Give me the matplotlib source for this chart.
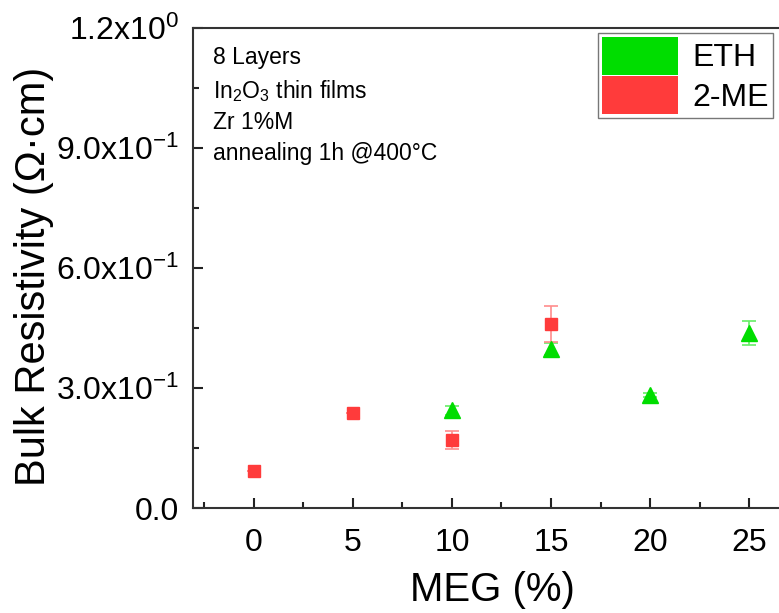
import matplotlib
matplotlib.use("Agg")
import matplotlib.pyplot as plt
from matplotlib.patches import Patch
from matplotlib.ticker import MultipleLocator

plt.rcParams["font.family"] = ["Liberation Sans", "DejaVu Sans"]
plt.rcParams["mathtext.default"] = "regular"

# data
eth_x = [10, 15, 20, 25]
eth_y = [0.245, 0.398, 0.283, 0.437]
eth_err = [0.011, 0.016, 0.006, 0.030]

me_x = [0, 5, 10, 15]
me_y = [0.093, 0.238, 0.170, 0.460]
me_err = [0.0, 0.0, 0.022, 0.045]

yticks = [0.0, 0.3, 0.6, 0.9, 1.2]
ytick_labels = ["0.0", "3.0x10$^{-1}$", "6.0x10$^{-1}$", "9.0x10$^{-1}$", "1.2x10$^{0}$"]
xticks = [0, 5, 10, 15, 20, 25]

green = "#00DD00"
red = "#FF3B3B"

fig = plt.figure(figsize=(7.79, 6.13), dpi=100)
ax = fig.add_axes([0.248, 0.171, 0.752, 0.783])

ax.errorbar(eth_x, eth_y, yerr=eth_err, fmt="^", color=green, ms=11,
            ecolor="#66EE66", elinewidth=1.2, capsize=5, capthick=1.2, zorder=3)
ax.errorbar(me_x, me_y, yerr=me_err, fmt="s", color=red, ms=8.5,
            ecolor="#FF8C8C", elinewidth=1.2, capsize=5, capthick=1.2, zorder=3)

ax.set_xlim(-3.05, 26.5)
ax.set_ylim(0, 1.2)
ax.set_xticks(xticks)
ax.set_yticks(yticks)
ax.set_yticklabels(ytick_labels)
ax.xaxis.set_minor_locator(MultipleLocator(2.5))
ax.yaxis.set_minor_locator(MultipleLocator(0.15))

ax.tick_params(which="both", direction="in", width=1.5, colors="#222222",
               labelsize=23, labelcolor="black")
ax.tick_params(which="major", length=7)
ax.tick_params(which="minor", length=4)
ax.tick_params(axis="y", pad=10)
ax.tick_params(axis="x", pad=14)

for side in ["left", "bottom", "top"]:
    ax.spines[side].set_linewidth(1.5)
    ax.spines[side].set_color("#333333")
ax.spines["right"].set_visible(False)

# axis titles placed in figure pixels to match the reference
fig.text(34 / 779, 1 - 276 / 613, "Bulk Resistivity (Ω·cm)", fontsize=30,
         rotation=90, ha="center", va="center")
fig.text(492 / 779, 1 - 601 / 613, "MEG (%)", fontsize=29,
         ha="center", va="baseline")

ax.text(0.033, 0.962, "8 Layers\nIn$_2$O$_3$ thin films\nZr 1%M\nannealing 1h @400°C",
        transform=ax.transAxes, fontsize=16.5, va="top", ha="left", linespacing=1.42)

handles = [Patch(facecolor=green, edgecolor="none", label="ETH"),
           Patch(facecolor=red, edgecolor="none", label="2-ME")]
leg = ax.legend(handles=handles, loc="upper right", bbox_to_anchor=(0.99, 0.99),
                fontsize=23, frameon=True, fancybox=False, edgecolor="#555555",
                handlelength=2.4, handleheight=1.45, handletextpad=0.45,
                borderpad=0.12, labelspacing=0.05, borderaxespad=0.0)
leg.get_frame().set_linewidth(1.0)

fig.savefig("out.png", dpi=100)
